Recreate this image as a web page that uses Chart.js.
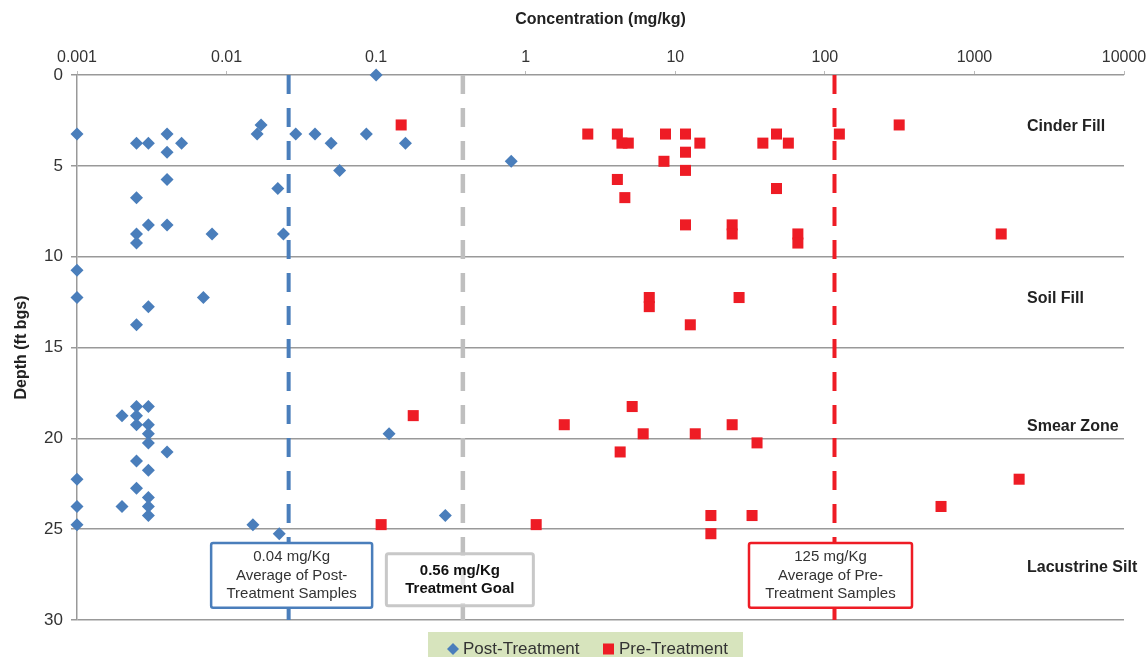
<!DOCTYPE html>
<html>
<head>
<meta charset="utf-8">
<script src="https://cdn.jsdelivr.net/npm/chart.js@4.4.1/dist/chart.umd.min.js"></script>
<style>
    html, body { margin: 0; padding: 0; background: #fff; }
    #wrap { width: 1147px; height: 657px; position: relative; }
</style>
</head>
<body>
<div id="wrap"><canvas id="depthChart"></canvas></div>
<script>
const tickValues = [0.001, 0.01, 0.1, 1, 10, 100, 1000, 10000];
const tickLabels = ['0.001', '0.01', '0.1', '1', '10', '100', '1000', '10000'];

// Post-treatment samples (mg/kg, ft bgs)
const postConc = [
    0.1, 0.001, 0.0025, 0.003, 0.004, 0.005, 0.004, 0.004, 0.0025, 0.003,
    0.004, 0.0025, 0.0025, 0.008, 0.024, 0.022, 0.016, 0.017, 0.029, 0.039,
    0.05, 0.057, 0.086, 0.157, 0.8, 0.001, 0.001, 0.007, 0.003, 0.0025,
    0.0025, 0.003, 0.002, 0.0025, 0.0025, 0.003, 0.003, 0.003, 0.004, 0.0025,
    0.003, 0.001, 0.0025, 0.003, 0.001, 0.002, 0.003, 0.003, 0.001, 0.015,
    0.0225, 0.122, 0.29
];
const postDepth = [
    0, 3.25, 3.75, 3.75, 3.25, 3.75, 4.25, 5.75, 6.75, 8.25,
    8.25, 8.75, 9.25, 8.75, 8.75, 6.25, 3.25, 2.75, 3.25, 3.25,
    3.75, 5.25, 3.25, 3.75, 4.75, 10.75, 12.25, 12.25, 12.75, 13.75,
    18.25, 18.25, 18.75, 18.75, 19.25, 19.25, 19.75, 20.25, 20.75, 21.25,
    21.75, 22.25, 22.75, 23.25, 23.75, 23.75, 23.75, 24.25, 24.75, 24.75,
    25.25, 19.75, 24.25
];

// Pre-treatment samples (mg/kg, ft bgs)
const preConc = [
    0.147, 2.6, 4.1, 4.4, 4.85, 8.6, 11.7, 14.6, 11.7, 8.4,
    11.7, 4.1, 4.6, 11.7, 24, 24, 38.5, 47.5, 57, 125,
    314, 47.5, 66, 66, 1510, 6.7, 6.7, 26.7, 12.6, 0.177,
    5.15, 1.81, 24, 6.1, 13.6, 35.2, 4.28, 1990, 598, 0.108,
    1.175, 17.3, 32.6, 17.3
];
const preDepth = [
    2.75, 3.25, 3.25, 3.75, 3.75, 3.25, 3.25, 3.75, 4.25, 4.75,
    5.25, 5.75, 6.75, 8.25, 8.25, 8.75, 3.75, 3.25, 3.75, 3.25,
    2.75, 6.25, 8.75, 9.25, 8.75, 12.25, 12.75, 12.25, 13.75, 18.75,
    18.25, 19.25, 19.25, 19.75, 19.75, 20.25, 20.75, 22.25, 23.75, 24.75,
    24.75, 24.25, 24.25, 25.25
];

// reference lines: post-treatment average, treatment goal, pre-treatment average
const refValues = [0.026, 0.38, 116];
const refColors = ['#4a7ebb', '#bfbfbf', '#ee1c25'];
const refText = [
    ['0.04 mg/Kg', 'Average of Post-', 'Treatment Samples'],
    ['0.56 mg/Kg', 'Treatment Goal'],
    ['125 mg/Kg', 'Average of Pre-', 'Treatment Samples']
];

const layerNames = ['Cinder Fill', 'Soil Fill', 'Smear Zone', 'Lacustrine Silt'];
const layerDepths = [2.86, 12.33, 19.37, 27.13];

const FONT = '"Liberation Sans", Arial, sans-serif';
Chart.defaults.font.family = FONT;

const toPoints = (xs, ys) => xs.map((x, i) => ({ x, y: ys[i] }));

function refLine(i, width) {
    return {
        type: 'line',
        data: [{ x: refValues[i], y: 0 }, { x: refValues[i], y: 30 }],
        borderColor: refColors[i],
        borderWidth: width,
        borderDash: [19, 14],
        pointRadius: 0,
        fill: false,
        order: 3
    };
}

// annotation boxes, layer names and legend
const decorPlugin = {
    id: 'decor',
    afterDatasetsDraw(chart) {
        const { ctx, scales: { x, y } } = chart;
        const boxes = [
            { shift: 3, w: 161, top: 25.76, bottom: 29.33, fill: '#fff', lw: 2.5, bold: false },
            { shift: -3, w: 147, top: 26.36, bottom: 29.22, fill: 'rgba(255,255,255,0.55)', lw: 3, bold: true },
            { shift: -4, w: 163, top: 25.76, bottom: 29.33, fill: '#fff', lw: 2.5, bold: false }
        ];
        ctx.save();
        boxes.forEach((b, i) => {
            const cx = x.getPixelForValue(refValues[i]) + b.shift;
            const y0 = y.getPixelForValue(b.top);
            const y1 = y.getPixelForValue(b.bottom);
            ctx.beginPath();
            ctx.roundRect(cx - b.w / 2, y0, b.w, y1 - y0, 2);
            ctx.fillStyle = b.fill;
            ctx.fill();
            ctx.lineWidth = b.lw;
            ctx.strokeStyle = i === 1 ? '#c8c8c8' : refColors[i];
            ctx.stroke();

            const lines = refText[i];
            const lh = 18.6;
            const cy = (y0 + y1) / 2 - (lines.length - 1) * lh / 2;
            ctx.fillStyle = b.bold ? '#111' : '#333';
            ctx.font = (b.bold ? 'bold ' : '') + '15px ' + FONT;
            ctx.textAlign = 'center';
            ctx.textBaseline = 'middle';
            lines.forEach((t, k) => ctx.fillText(t, cx, cy + k * lh));
        });

        ctx.font = 'bold 16px ' + FONT;
        ctx.fillStyle = '#222';
        ctx.textAlign = 'left';
        ctx.textBaseline = 'middle';
        layerNames.forEach((n, i) => ctx.fillText(n, 1027, y.getPixelForValue(layerDepths[i])));

        // legend
        ctx.fillStyle = '#d7e4bd';
        ctx.fillRect(428, 632, 315, 25);
        const ly = 649;
        ctx.fillStyle = '#4a7ebb';
        ctx.beginPath();
        ctx.moveTo(453, ly - 6); ctx.lineTo(459, ly); ctx.lineTo(453, ly + 6); ctx.lineTo(447, ly);
        ctx.closePath();
        ctx.fill();
        ctx.fillStyle = '#ee1c25';
        ctx.fillRect(603, ly - 5.5, 11, 11);
        ctx.font = '17px ' + FONT;
        ctx.fillStyle = '#333';
        ctx.fillText('Post-Treatment', 463, ly);
        ctx.fillText('Pre-Treatment', 619, ly);
        ctx.restore();
    }
};

new Chart(document.getElementById('depthChart'), {
    type: 'scatter',
    data: {
        datasets: [
            {
                label: 'Post-Treatment',
                data: toPoints(postConc, postDepth),
                pointStyle: 'rectRot',
                pointRadius: 6.5,
                backgroundColor: '#4a7ebb',
                borderColor: '#4a7ebb',
                borderWidth: 0,
                clip: false,
                order: 1
            },
            {
                label: 'Pre-Treatment',
                data: toPoints(preConc, preDepth),
                pointStyle: 'rect',
                pointRadius: 7.8,
                backgroundColor: '#ee1c25',
                borderColor: '#ee1c25',
                borderWidth: 0,
                clip: false,
                order: 2
            },
            refLine(0, 4),
            refLine(1, 4.5),
            refLine(2, 4)
        ]
    },
    options: {
        responsive: true,
        maintainAspectRatio: false,
        animation: false,
        events: [],
        layout: { padding: { left: 0, right: 23, top: 0, bottom: 37 } },
        plugins: {
            legend: { display: false },
            tooltip: { enabled: false }
        },
        scales: {
            x: {
                type: 'logarithmic',
                position: 'top',
                min: 0.001,
                max: 10000,
                afterBuildTicks: s => { s.ticks = tickValues.map(v => ({ value: v })); },
                afterFit: s => { s.height = 75; s.paddingLeft = 0; s.paddingRight = 0; },
                ticks: {
                    callback: (v, i) => tickLabels[i],
                    font: { size: 16 },
                    color: '#333',
                    padding: 4,
                    maxRotation: 0,
                    autoSkip: false
                },
                grid: { drawOnChartArea: false, tickLength: 4, color: '#bbb' },
                border: { display: false },
                title: {
                    display: true,
                    text: 'Concentration (mg/kg)',
                    font: { size: 16, weight: 'bold' },
                    color: '#222',
                    padding: { top: 10 }
                }
            },
            y: {
                type: 'linear',
                reverse: true,
                min: 0,
                max: 30,
                afterFit: s => { s.width = 77; s.paddingTop = 0; s.paddingBottom = 0; },
                ticks: { stepSize: 5, font: { size: 17 }, color: '#333', padding: 8 },
                grid: { color: '#999', lineWidth: 1.5, tickLength: 6 },
                border: { color: '#999', width: 1.5 },
                title: {
                    display: true,
                    text: 'Depth (ft bgs)',
                    font: { size: 16, weight: 'bold' },
                    color: '#222',
                    padding: { top: 12 }
                }
            }
        }
    },
    plugins: [decorPlugin]
});
</script>
</body>
</html>
